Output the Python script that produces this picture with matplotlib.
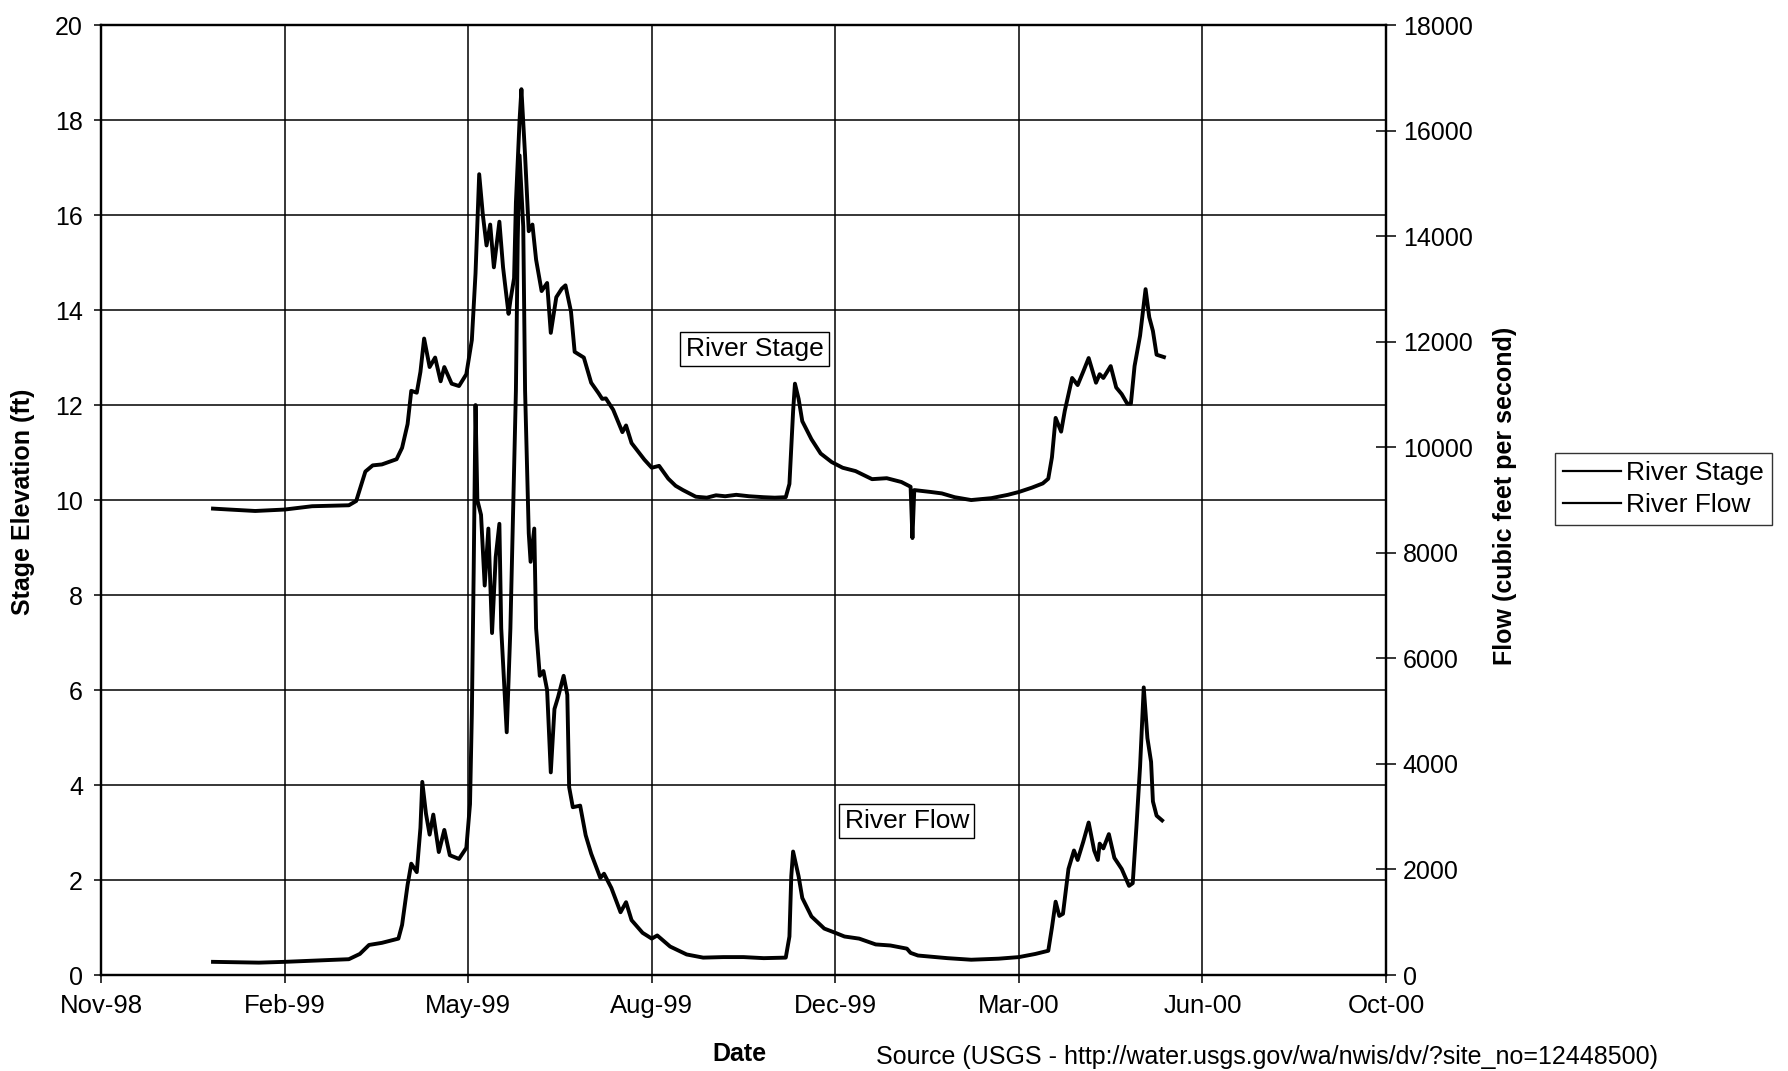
import matplotlib
matplotlib.use("Agg")
import matplotlib.pyplot as plt
import matplotlib.dates as mdates
import matplotlib.ticker as mticker
import pandas as pd

plt.rcParams["font.family"] = ["Liberation Sans", "DejaVu Sans"]

# river stage (ft)
stage_dates = [
    "1999-01-01", "1999-01-10", "1999-01-24", "1999-02-09", "1999-02-24", "1999-03-16",
    "1999-03-20", "1999-03-25", "1999-03-29", "1999-04-03", "1999-04-11", "1999-04-14",
    "1999-04-17", "1999-04-19", "1999-04-22", "1999-04-24", "1999-04-26", "1999-04-29",
    "1999-05-02", "1999-05-05", "1999-05-07", "1999-05-11", "1999-05-15", "1999-05-19",
    "1999-05-22", "1999-05-24", "1999-05-26", "1999-05-28", "1999-05-30", "1999-06-01",
    "1999-06-03", "1999-06-06", "1999-06-08", "1999-06-09", "1999-06-11", "1999-06-12",
    "1999-06-14", "1999-06-15", "1999-06-17", "1999-06-18", "1999-06-20", "1999-06-22",
    "1999-06-24", "1999-06-26", "1999-06-29", "1999-07-02", "1999-07-04", "1999-07-07",
    "1999-07-10", "1999-07-12", "1999-07-15", "1999-07-17", "1999-07-22", "1999-07-26",
    "1999-07-30", "1999-08-01", "1999-08-03", "1999-08-07", "1999-08-12", "1999-08-14",
    "1999-08-17", "1999-08-20", "1999-08-24", "1999-08-28", "1999-09-01", "1999-09-06",
    "1999-09-10", "1999-09-14", "1999-09-21", "1999-09-27", "1999-10-02", "1999-10-07",
    "1999-10-13", "1999-10-20", "1999-10-28", "1999-11-03", "1999-11-09", "1999-11-11",
    "1999-11-13", "1999-11-14", "1999-11-16", "1999-11-18", "1999-11-23", "1999-11-28",
    "1999-12-04", "1999-12-10", "1999-12-17", "1999-12-26", "2000-01-03", "2000-01-11",
    "2000-01-16", "2000-01-17", "2000-01-18", "2000-01-27", "2000-02-02", "2000-02-09",
    "2000-02-18", "2000-02-29", "2000-03-09", "2000-03-15", "2000-03-22", "2000-03-28",
    "2000-03-31", "2000-04-02", "2000-04-04", "2000-04-07", "2000-04-09", "2000-04-13",
    "2000-04-16", "2000-04-19", "2000-04-22", "2000-04-26", "2000-04-28", "2000-04-30",
    "2000-05-04", "2000-05-07", "2000-05-10", "2000-05-13", "2000-05-15", "2000-05-17",
    "2000-05-20", "2000-05-23", "2000-05-25", "2000-05-27", "2000-05-29", "2000-06-02",
]
stage_ft = [
    9.82, 9.80, 9.77, 9.80, 9.87, 9.89,
    9.98, 10.60, 10.73, 10.75, 10.86, 11.10,
    11.60, 12.30, 12.26, 12.70, 13.40, 12.80,
    13.00, 12.50, 12.80, 12.45, 12.40, 12.65,
    13.37, 14.77, 16.86, 16.00, 15.36, 15.80,
    14.90, 15.86, 14.90, 14.57, 13.92, 14.20,
    14.67, 16.26, 18.00, 18.65, 17.25, 15.66,
    15.80, 15.06, 14.40, 14.57, 13.52, 14.27,
    14.45, 14.52, 13.97, 13.12, 13.00, 12.47,
    12.25, 12.13, 12.14, 11.90, 11.43, 11.57,
    11.20, 11.05, 10.85, 10.68, 10.72, 10.45,
    10.30, 10.21, 10.07, 10.05, 10.10, 10.08,
    10.11, 10.08, 10.06, 10.05, 10.06, 10.34,
    11.87, 12.45, 12.13, 11.66, 11.28, 10.98,
    10.80, 10.68, 10.61, 10.44, 10.46, 10.38,
    10.28, 9.20, 10.21, 10.17, 10.14, 10.06,
    10.00, 10.04, 10.11, 10.17, 10.26, 10.35,
    10.45, 10.90, 11.73, 11.44, 11.88, 12.57,
    12.42, 12.70, 12.99, 12.47, 12.65, 12.57,
    12.82, 12.37, 12.23, 12.03, 12.03, 12.82,
    13.46, 14.44, 13.85, 13.56, 13.06, 13.01,
]

# river flow (cfs)
flow_dates = [
    "1999-01-01", "1999-01-26", "1999-02-09", "1999-03-16", "1999-03-22", "1999-03-27",
    "1999-04-03", "1999-04-12", "1999-04-14", "1999-04-17", "1999-04-19", "1999-04-22",
    "1999-04-24", "1999-04-25", "1999-04-27", "1999-04-29", "1999-05-01", "1999-05-04",
    "1999-05-07", "1999-05-10", "1999-05-15", "1999-05-19", "1999-05-21", "1999-05-22",
    "1999-05-23", "1999-05-24", "1999-05-25", "1999-05-27", "1999-05-29", "1999-05-31",
    "1999-06-02", "1999-06-04", "1999-06-06", "1999-06-07", "1999-06-10", "1999-06-12",
    "1999-06-15", "1999-06-16", "1999-06-17", "1999-06-19", "1999-06-20", "1999-06-22",
    "1999-06-23", "1999-06-25", "1999-06-26", "1999-06-28", "1999-06-30", "1999-07-02",
    "1999-07-04", "1999-07-06", "1999-07-08", "1999-07-11", "1999-07-13", "1999-07-14",
    "1999-07-16", "1999-07-20", "1999-07-23", "1999-07-26", "1999-07-31", "1999-08-02",
    "1999-08-06", "1999-08-11", "1999-08-14", "1999-08-17", "1999-08-23", "1999-08-28",
    "1999-08-31", "1999-09-07", "1999-09-16", "1999-09-25", "1999-10-06", "1999-10-17",
    "1999-10-28", "1999-11-09", "1999-11-11", "1999-11-12", "1999-11-13", "1999-11-16",
    "1999-11-18", "1999-11-23", "1999-11-30", "1999-12-06", "1999-12-11", "1999-12-19",
    "1999-12-28", "2000-01-05", "2000-01-14", "2000-01-16", "2000-01-20", "2000-02-05",
    "2000-02-18", "2000-03-04", "2000-03-15", "2000-03-24", "2000-03-31", "2000-04-02",
    "2000-04-04", "2000-04-06", "2000-04-08", "2000-04-11", "2000-04-14", "2000-04-16",
    "2000-04-19", "2000-04-22", "2000-04-25", "2000-04-27", "2000-04-28", "2000-04-30",
    "2000-05-03", "2000-05-06", "2000-05-10", "2000-05-14", "2000-05-16", "2000-05-18",
    "2000-05-20", "2000-05-22", "2000-05-24", "2000-05-26", "2000-05-27", "2000-05-29",
    "2000-06-01",
]
flow_cfs = [
    250, 235, 250, 300, 400, 570,
    610, 690, 950, 1710, 2110, 1950,
    2790, 3660, 3060, 2660, 3040, 2330,
    2750, 2270, 2200, 2410, 3240, 4950,
    7650, 10800, 9000, 8720, 7380, 8460,
    6480, 7920, 8550, 6570, 4600, 6570,
    11070, 13950, 15530, 14180, 11070, 8370,
    7830, 8460, 6570, 5670, 5760, 5400,
    3840, 5040, 5270, 5670, 5310, 3560,
    3180, 3210, 2650, 2300, 1840, 1920,
    1650, 1190, 1380, 1040, 800, 690,
    750, 540, 390, 330, 340, 340,
    320, 330, 730, 1870, 2340, 1870,
    1460, 1110, 880, 800, 730, 690,
    580, 560, 500, 420, 370, 320,
    290, 310, 340, 400, 460, 900,
    1390, 1120, 1160, 2010, 2360, 2180,
    2520, 2890, 2360, 2180, 2490, 2400,
    2670, 2220, 2010, 1690, 1740, 2800,
    3950, 5450, 4490, 4040, 3290, 3020,
    2930,
]

stage_ticks = [0, 2, 4, 6, 8, 10, 12, 14, 16, 18, 20]
flow_ticks = [0, 2000, 4000, 6000, 8000, 10000, 12000, 14000, 16000, 18000]

x_start = pd.Timestamp("1998-11-01")
x_end = pd.Timestamp("2000-10-01")
date_ticks = pd.date_range(x_start, x_end, freq="100D")

fig = plt.figure(figsize=(17.88, 10.71), dpi=100)
ax = fig.add_axes([0.0565, 0.0896, 0.7187, 0.887])
ax2 = ax.twinx()

l1, = ax.plot(pd.to_datetime(stage_dates), stage_ft, color="black", lw=2.8,
              label="River Stage", solid_joinstyle="round")
l2, = ax2.plot(pd.to_datetime(flow_dates), flow_cfs, color="black", lw=2.8,
               label="River Flow", solid_joinstyle="round")

ax.set_xlim(x_start, x_end)
ax.set_ylim(0, 20)
ax2.set_ylim(0, 18000)
ax.set_yticks(stage_ticks)
ax2.set_yticks(flow_ticks)
ax2.yaxis.set_major_formatter(mticker.FormatStrFormatter("%d"))
ax.set_xticks(date_ticks)
ax.xaxis.set_major_formatter(mdates.DateFormatter("%b-%y"))

ax.grid(True, color="black", lw=1.1)
ax.set_axisbelow(True)
for a in (ax, ax2):
    for s in a.spines.values():
        s.set_linewidth(1.6)

ax.tick_params(axis="y", direction="out", length=5, width=1.1, pad=8, labelsize=18)
ax.tick_params(axis="x", direction="out", length=6, width=1.1, pad=8, labelsize=18.5)
ax2.tick_params(axis="y", direction="inout", length=14, width=1.1, pad=5, labelsize=18)

ax.set_ylabel("Stage Elevation (ft)", fontsize=18, fontweight="bold")
ax2.set_ylabel("Flow (cubic feet per second)", fontsize=18, fontweight="bold")
ax.set_xlabel("Date", fontsize=18, fontweight="bold")
ax.yaxis.set_label_coords(-0.051, 0.498)
ax2.yaxis.set_label_coords(1.083, 0.504)
ax.xaxis.set_label_coords(0.4965, -0.07)

box = dict(boxstyle="square,pad=0.2", facecolor="white", edgecolor="black", lw=1)
ax.text(pd.Timestamp("1999-10-23"), 13.18, "River Stage", fontsize=19,
        ha="center", va="center", bbox=box)
ax.text(pd.Timestamp("2000-01-14"), 3.24, "River Flow", fontsize=19,
        ha="center", va="center", bbox=box)

leg_lines = [plt.Line2D([], [], color="black", lw=1.6),
             plt.Line2D([], [], color="black", lw=1.6)]
leg = fig.legend(leg_lines, [l1.get_label(), l2.get_label()], loc="upper left",
                 bbox_to_anchor=(0.8697, 0.577), fontsize=19, frameon=True,
                 fancybox=False, shadow=False, handlelength=2.2, handletextpad=0.2,
                 borderpad=0.3, labelspacing=0.3, borderaxespad=0)
leg.get_frame().set_edgecolor("black")
leg.get_frame().set_linewidth(1.0)

fig.text(876 / 1788, 1 - 1045 / 1071,
         "Source (USGS - http://water.usgs.gov/wa/nwis/dv/?site_no=12448500)",
         fontsize=18, ha="left", va="top")

fig.savefig("out.png", dpi=100)
